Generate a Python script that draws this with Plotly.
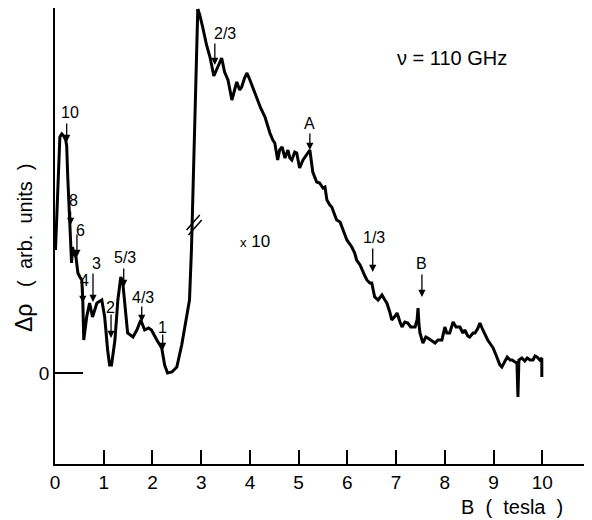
import plotly.graph_objects as go

# Low-field trace (unscaled), B in tesla, delta-rho in arb. units
B_low = [0.01, 0.06, 0.10, 0.14, 0.18, 0.22, 0.24, 0.26, 0.28, 0.30, 0.32, 0.34, 0.36, 0.38,
         0.43, 0.47, 0.51, 0.55, 0.57, 0.59, 0.65, 0.71, 0.77, 0.86, 0.96, 1.02, 1.08, 1.12,
         1.16, 1.23, 1.29, 1.35, 1.39, 1.49, 1.60, 1.68, 1.76, 1.84, 1.92, 1.98, 2.09, 2.19,
         2.25, 2.31, 2.40, 2.50, 2.60, 2.70, 2.76, 2.80, 2.85, 2.89, 2.93]
rho_low = [12.3, 19.3, 23.6, 23.9, 23.7, 23.3, 22.7, 19.8, 17.3, 15.8, 14.0, 11.0, 12.6, 12.1,
           11.6, 10.0, 9.6, 9.3, 7.3, 3.3, 5.6, 7.0, 5.6, 7.0, 7.3, 5.6, 2.3, 0.8,
           0.8, 3.3, 7.3, 9.6, 9.1, 4.0, 3.6, 4.3, 5.3, 4.3, 4.5, 4.3, 3.3, 2.5,
           0.8, 0.0, 0.1, 0.6, 2.8, 5.6, 7.3, 12.3, 22.3, 31.3, 36.4]

# High-field trace (magnified x10)
B_high = [2.93, 2.97, 3.03, 3.11, 3.18, 3.26, 3.34, 3.42, 3.48, 3.55, 3.63, 3.69, 3.73, 3.79,
          3.83, 3.89, 3.94, 4.00, 4.06, 4.14, 4.22, 4.31, 4.37, 4.41, 4.47, 4.51, 4.57, 4.61,
          4.66, 4.72, 4.78, 4.82, 4.86, 4.92, 4.96, 5.02, 5.09, 5.13, 5.19, 5.23, 5.29, 5.37,
          5.43, 5.50, 5.54, 5.58, 5.64, 5.68, 5.74, 5.78, 5.85, 5.89, 5.95, 5.99, 6.05, 6.09,
          6.15, 6.19, 6.26, 6.30, 6.36, 6.40, 6.46, 6.50, 6.56, 6.63, 6.67, 6.71, 6.77, 6.81,
          6.87, 6.91, 6.98, 7.02, 7.08, 7.12, 7.18, 7.24, 7.30, 7.39, 7.43, 7.45, 7.47, 7.49,
          7.55, 7.61, 7.65, 7.71, 7.80, 7.86, 7.94, 8.00, 8.04, 8.10, 8.17, 8.23, 8.31, 8.37,
          8.41, 8.47, 8.51, 8.58, 8.62, 8.68, 8.72, 8.78, 8.84, 8.88, 8.95, 8.99, 9.05, 9.09,
          9.13, 9.17, 9.23, 9.28, 9.34, 9.38, 9.44, 9.48, 9.50, 9.52, 9.58, 9.64, 9.69, 9.75,
          9.81, 9.85, 9.89, 9.95, 9.99, 9.99]
rho_high = [36.4, 35.8, 34.6, 32.8, 31.6, 29.7, 30.6, 31.5, 30.1, 29.3, 27.3, 28.5, 29.1, 28.3,
            28.6, 29.5, 30.0, 29.3, 28.5, 27.6, 26.5, 25.6, 24.6, 24.0, 23.3, 23.0, 21.3, 22.3,
            22.6, 21.5, 22.3, 21.5, 21.3, 22.1, 22.0, 20.5, 21.3, 21.6, 22.1, 22.3, 20.1, 19.1,
            19.0, 18.5, 18.6, 17.3, 16.8, 16.6, 15.8, 15.3, 15.1, 14.6, 13.8, 13.3, 12.9, 12.6,
            12.0, 11.3, 10.8, 10.3, 9.7, 9.3, 9.0, 9.0, 7.6, 7.3, 7.6, 7.8, 7.3, 7.0,
            6.1, 5.3, 5.7, 6.0, 5.1, 4.6, 5.1, 5.0, 4.6, 4.6, 5.3, 6.5, 4.8, 4.0,
            3.0, 3.6, 3.5, 3.3, 3.0, 3.3, 3.3, 4.6, 4.0, 4.0, 5.1, 4.6, 4.6, 4.0,
            4.3, 3.7, 3.6, 4.0, 4.0, 4.5, 5.0, 4.3, 3.6, 3.3, 2.8, 2.5, 1.8, 1.3,
            0.8, 0.6, 1.2, 1.6, 1.3, 1.3, 1.1, 1.0, -2.4, 1.3, 1.5, 1.2, 1.5, 1.3,
            1.3, 1.7, 1.6, 1.3, 1.5, -0.4]

# Marked features: label, field position, value at arrow tip
mark_labels = ["10", "8", "6", "4", "3", "2", "5/3", "4/3", "1", "2/3", "A", "1/3", "B"]
mark_B = [0.24, 0.32, 0.45, 0.57, 0.78, 1.15, 1.41, 1.78, 2.21, 3.28, 5.23, 6.52, 7.53]
mark_rho = [23.1, 14.8, 11.6, 7.0, 7.1, 3.5, 8.6, 5.1, 2.3, 30.8, 22.3, 10.1, 7.6]

x_ticks = [0, 1, 2, 3, 4, 5, 6, 7, 8, 9, 10]

# styling: arrow length (px), label offset above tip (px), label x shift (px)
arrow_len = [20, 15, 24, 18, 30, 25, 20, 17, 17, 23, 18, 25, 24]
label_dy = [30, 25, 27, 23, 39, 31, 30, 25, 23, 32, 27, 35, 34]
label_dx = [3, 3, 4, 2, 3, -1, 1, 1, 0, 10, 0, 1, 0]

FONT = "Liberation Sans"
OFF = 8  # page body margin of the html output
W, H = 592 - OFF, 520 - OFF
L, R, T, B = 55 - OFF, 0, 8 - OFF, 56
PW, PH = W - L - R, H - T - B


def px(x, y):
    """page pixel position -> paper coordinates"""
    return (x - OFF - L) / PW, (H - B - (y - OFF)) / PH


fig = go.Figure()
fig.add_trace(go.Scatter(x=B_low, y=rho_low, mode="lines",
                         line=dict(color="black", width=3), showlegend=False))
fig.add_trace(go.Scatter(x=B_high, y=rho_high, mode="lines",
                         line=dict(color="black", width=3), showlegend=False))

annotations = []
for lab, bx, ry, al, dy, dx in zip(mark_labels, mark_B, mark_rho, arrow_len, label_dy, label_dx):
    annotations.append(dict(x=bx, y=ry, xref="x", yref="y", text="", showarrow=True,
                            ax=0, ay=-al, arrowhead=2, arrowsize=1.1, arrowwidth=1.3,
                            arrowcolor="black", standoff=0))
    annotations.append(dict(x=bx, y=ry, xref="x", yref="y", text=lab, showarrow=False,
                            yshift=dy, xshift=dx, xanchor="center", yanchor="middle",
                            font=dict(family=FONT, size=16, color="black")))

nx, ny = px(452, 58)
tx, ty = px(255, 242)
bx_, by_ = px(512, 507)
yx, yy = px(24, 248)
common = dict(xref="paper", yref="paper", showarrow=False, xanchor="center", yanchor="middle")
annotations += [
    dict(x=nx, y=ny, text="ν = 110 GHz", font=dict(family=FONT, size=20, color="black"), **common),
    dict(x=tx, y=ty, text="<span style='font-size:13px'>x</span> 10",
         font=dict(family=FONT, size=17, color="black"), **common),
    dict(x=bx_, y=by_, text="B  (  tesla  )", font=dict(family=FONT, size=20, color="black"), **common),
    dict(x=yx, y=yy, text="<span style='font-size:23px'>Δρ</span>   (  arb.  units  )", textangle=-90,
         font=dict(family=FONT, size=20, color="black"), **common),
]

fig.update_layout(
    width=W, height=H,
    margin=dict(l=L, r=R, t=T, b=B, pad=0, autoexpand=False),
    paper_bgcolor="white", plot_bgcolor="white",
    annotations=annotations,
    shapes=[
        dict(type="line", xref="x", yref="y", x0=2.70, y0=14.3, x1=2.97, y1=15.8,
             line=dict(color="black", width=1.5)),
        dict(type="line", xref="x", yref="y", x0=2.74, y0=13.8, x1=3.01, y1=15.3,
             line=dict(color="black", width=1.5)),
    ],
    xaxis=dict(range=[0, 11.02], tickvals=x_ticks, ticktext=[str(t) for t in x_ticks],
               ticks="inside", ticklen=14, tickwidth=1.5, tickcolor="black",
               showline=True, linecolor="black", linewidth=1.5, mirror=True,
               showgrid=False, zeroline=False, automargin=False,
               tickfont=dict(family=FONT, size=19, color="black")),
    yaxis=dict(range=[-9.1, 36.5], tickvals=[0], ticktext=["0"],
               ticks="inside", ticklen=28, tickwidth=1.5, tickcolor="black",
               showline=True, linecolor="black", linewidth=1.5,
               showgrid=False, zeroline=False, automargin=False,
               tickfont=dict(family=FONT, size=19, color="black")),
)

fig.write_html("out.html")
